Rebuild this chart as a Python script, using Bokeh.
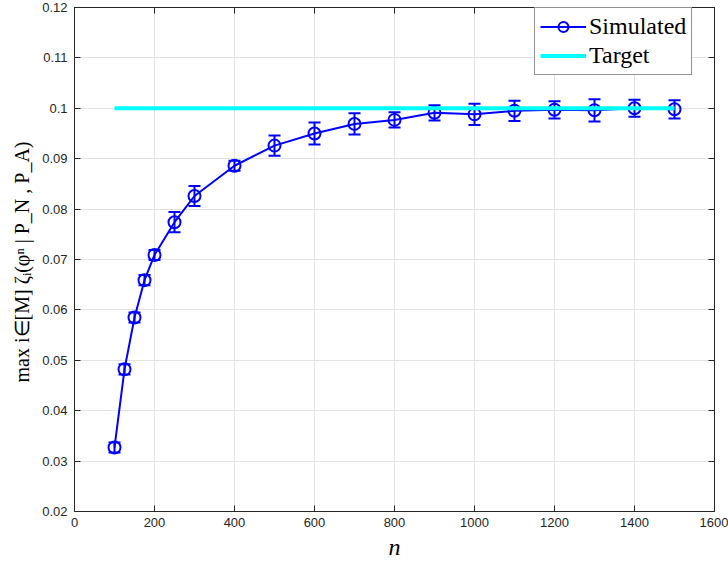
from bokeh.plotting import figure
from bokeh.models import (ColumnDataSource, Range1d, FixedTicker, LinearAxis, Whisker,
                          TeeHead, Legend, LegendItem)
from bokeh.embed import file_html
from bokeh.resources import INLINE

# ---- data ----
n_values = [100, 125, 150, 175, 200, 250, 300, 400, 500, 600, 700, 800, 900, 1000,
            1100, 1200, 1300, 1400, 1500]
sim_mean = [0.0327, 0.0482, 0.0585, 0.0659, 0.0709, 0.0774, 0.0826, 0.0886, 0.0926,
            0.0950, 0.0969, 0.0977, 0.0991, 0.0988, 0.0995, 0.0997, 0.0996, 0.1000, 0.0998]
sim_err = [0.0010, 0.0010, 0.0010, 0.0010, 0.0010, 0.0020, 0.0020, 0.0010, 0.0020,
           0.0022, 0.0021, 0.0015, 0.0015, 0.0021, 0.0020, 0.0017, 0.0022, 0.0017, 0.0018]
target_n = [100, 1500]
target_val = [0.1, 0.1]
x_ticks = [0, 200, 400, 600, 800, 1000, 1200, 1400, 1600]
y_ticks = [0.02, 0.03, 0.04, 0.05, 0.06, 0.07, 0.08, 0.09, 0.10, 0.11, 0.12]
y_tick_labels = ["0.02", "0.03", "0.04", "0.05", "0.06", "0.07", "0.08", "0.09", "0.1", "0.11", "0.12"]
series_names = ["Simulated", "Target"]
x_label = "n"
y_label = "max i\u2208[M]  \u03b6\u1d62(\u03c6\u207f | P_N , P_A)"

BLUE = "#0000ff"
CYAN = "#00ffff"
AX = "#262626"
GRID = "#e3e3e3"

src = ColumnDataSource(dict(
    n=n_values, y=sim_mean,
    lo=[m - e for m, e in zip(sim_mean, sim_err)],
    hi=[m + e for m, e in zip(sim_mean, sim_err)],
))

p = figure(width=728, height=564, output_backend="svg", toolbar_location=None,
           x_range=Range1d(0, 1600), y_range=Range1d(0.02, 0.12),
           min_border_left=74, min_border_right=14, min_border_top=7, min_border_bottom=53)
p.outline_line_color = AX
p.outline_line_width = 1
p.background_fill_color = "white"
p.border_fill_color = "white"

# grid
p.xgrid.ticker = FixedTicker(ticks=x_ticks)
p.ygrid.ticker = FixedTicker(ticks=y_ticks)
for g in (p.xgrid, p.ygrid):
    g.grid_line_color = GRID
    g.grid_line_width = 1

def style_axis(ax, ticks):
    ax.ticker = FixedTicker(ticks=ticks)
    ax.axis_line_color = AX
    ax.major_tick_line_color = AX
    ax.major_tick_in = 6
    ax.major_tick_out = 0
    ax.minor_tick_line_color = None
    ax.major_label_text_font = "Liberation Sans"
    ax.major_label_text_font_size = "13px"
    ax.major_label_text_color = AX

style_axis(p.xaxis[0], x_ticks)
style_axis(p.yaxis[0], y_ticks)
p.yaxis[0].major_label_overrides = {t: lab for t, lab in zip(y_ticks, y_tick_labels)}
p.xaxis[0].major_label_standoff = 6
p.yaxis[0].major_label_standoff = 7

p.xaxis[0].axis_label = x_label
p.xaxis[0].axis_label_text_font = "Liberation Serif"
p.xaxis[0].axis_label_text_font_style = "italic"
p.xaxis[0].axis_label_text_font_size = "24px"
p.xaxis[0].axis_label_text_color = "black"
p.xaxis[0].axis_label_standoff = 4

p.yaxis[0].axis_label = y_label
p.yaxis[0].axis_label_text_font = "Liberation Serif"
p.yaxis[0].axis_label_text_font_style = "normal"
p.yaxis[0].axis_label_text_font_size = "20px"
p.yaxis[0].axis_label_text_color = "black"
p.yaxis[0].axis_label_standoff = 6

# box axes (top/right) with inward ticks, no labels
for loc, ticks in (("right", y_ticks), ("above", x_ticks)):
    ax = LinearAxis()
    style_axis(ax, ticks)
    ax.major_label_text_font_size = "0px"
    ax.major_label_overrides = {t: "" for t in ticks}
    ax.major_label_standoff = 0
    p.add_layout(ax, loc)

# simulated series
line_r = p.line("n", "y", source=src, line_color=BLUE, line_width=2)
whisk = Whisker(source=src, base="n", upper="hi", lower="lo",
                line_color=BLUE, line_width=2,
                upper_head=TeeHead(size=12, line_color=BLUE, line_width=2),
                lower_head=TeeHead(size=12, line_color=BLUE, line_width=2))
p.add_layout(whisk)
mark_r = p.scatter("n", "y", source=src, marker="circle", size=12,
                   fill_color=None, line_color=BLUE, line_width=2)

# target line
tgt_r = p.line(target_n, target_val, line_color=CYAN, line_width=4)

legend = Legend(items=[LegendItem(label=series_names[0], renderers=[line_r, mark_r]),
                       LegendItem(label=series_names[1], renderers=[tgt_r])],
                location=(460, 436))
legend.margin = 0
legend.padding = 5
legend.spacing = 2
legend.label_height = 25
legend.glyph_height = 25
legend.glyph_width = 46
legend.label_standoff = 3
legend.label_text_font = "Liberation Serif"
legend.label_text_font_size = "24px"
legend.label_text_color = "black"
legend.border_line_color = AX
legend.border_line_width = 1
legend.background_fill_color = "white"
legend.background_fill_alpha = 1.0
p.add_layout(legend)

open("out.html", "w").write(file_html(p, INLINE))
